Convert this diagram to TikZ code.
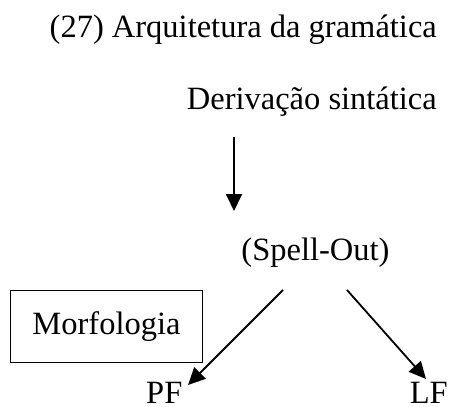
\documentclass[tikz,border=0pt]{standalone}
\usepackage{fontspec}
\setmainfont{Liberation Serif}
\usetikzlibrary{arrows.meta}
\tikzset{
  lbl/.style={inner sep=0pt, font=\fontsize{32.5}{38}\selectfont},
  arr/.style={line width=1.8pt, -{Triangle[length=17pt,width=16pt]}},
  morphbox/.style={draw, line width=1.8pt, minimum width=192pt, minimum height=72pt, inner sep=0pt, font=\fontsize{32.5}{38}\selectfont}
}
\begin{document}
\begin{tikzpicture}[x=1pt,y=-1pt]
\useasboundingbox (0,0) rectangle (454,406);
\node[lbl, anchor=base east] (title) at (437,38) {(27) Arquitetura da gramática};
\node[lbl, anchor=base east] (deriv) at (437,110) {Derivação sintática};
\node[lbl, anchor=base] (spell) at (315.5,260) {(Spell-Out)};
\node[morphbox] (morph) at (106.5,326.5) {Morfologia};
\node[lbl, text depth=0pt, anchor=base west] (pf) at (146,403) {PF};
\node[lbl, text depth=0pt, anchor=base east] (lf) at (448,403) {LF};
\coordinate (d1) at (234,137);
\coordinate (d2) at (234,211);
\coordinate (s1) at (283,290);
\coordinate (s2) at (188,385);
\coordinate (s3) at (347,290);
\coordinate (s4) at (426,379);
\draw[arr] (d1) -- (d2);
\draw[arr] (s1) -- (s2);
\draw[arr] (s3) -- (s4);
\end{tikzpicture}
\end{document}
